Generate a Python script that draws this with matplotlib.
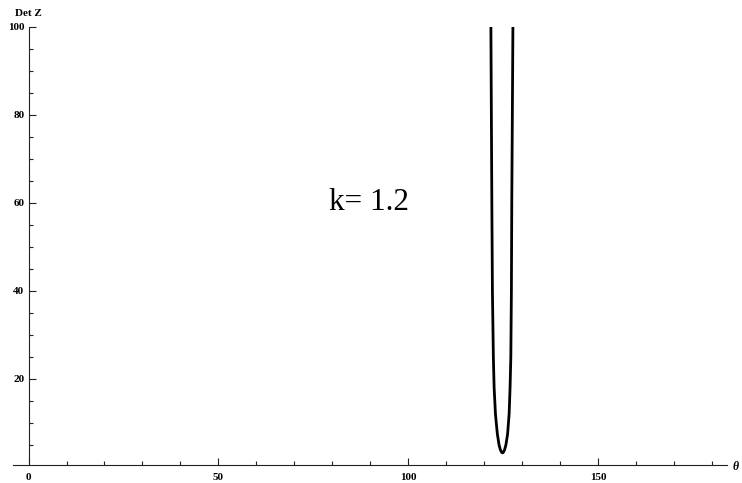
import matplotlib.pyplot as plt
from matplotlib.ticker import MultipleLocator

# Det Z against theta for k = 1.2 (points read along both branches of the dip)
theta = [121.8, 122.05, 122.2, 122.45, 122.65, 123.0, 123.5, 123.95, 124.3, 124.6, 124.85,
         125.1, 125.4, 125.75, 126.2, 126.6, 126.85, 127.05, 127.2, 127.3, 127.6]
det_z = [100, 60, 40, 25, 18, 12, 7.5, 5.0, 3.9, 3.35, 3.2,
         3.35, 3.9, 5.0, 7.5, 12, 18, 25, 40, 60, 100]

x_major = [0, 50, 100, 150]
y_major = [20, 40, 60, 80, 100]

plt.rcParams["font.family"] = ["Liberation Serif", "DejaVu Serif"]

fig = plt.figure(figsize=(7.42, 4.83), dpi=100)
ax = fig.add_axes([13 / 742, 18 / 483, (727 - 13) / 742, (465 - 27) / 483])

ax.plot(theta, det_z, color="black", lw=2.0, solid_joinstyle="round")

ax.set_xlim(-4.1, 184)
ax.set_ylim(0.45, 100)

for s in ("top", "right"):
    ax.spines[s].set_visible(False)
ax.spines["left"].set_position(("data", 0))
for s in ("left", "bottom"):
    ax.spines[s].set_linewidth(0.8)
    ax.spines[s].set_color("#222222")

ax.xaxis.set_major_locator(MultipleLocator(50))
ax.xaxis.set_minor_locator(MultipleLocator(10))
ax.yaxis.set_major_locator(MultipleLocator(20))
ax.yaxis.set_minor_locator(MultipleLocator(5))
ax.set_xticks(x_major)
ax.set_yticks(y_major)

ax.tick_params(which="both", direction="in", color="#222222", width=0.8)
ax.tick_params(which="major", length=5, labelsize=8, pad=6)
ax.tick_params(which="minor", length=3)
ax.tick_params(axis="y", which="major", pad=3)
for lbl in ax.get_xticklabels() + ax.get_yticklabels():
    lbl.set_fontweight("bold")

ax.text(89.8, 60, "k= 1.2", fontsize=22.5, ha="center", va="center")
fig.text(28 / 742, 1 - 13 / 483, "Det Z", fontsize=8, fontweight="bold",
         ha="center", va="center")
fig.text(736 / 742, 1 - 467 / 483, "θ", fontsize=8.5, fontstyle="italic",
         fontweight="bold", ha="center", va="center")

fig.savefig("out.png", dpi=100)
